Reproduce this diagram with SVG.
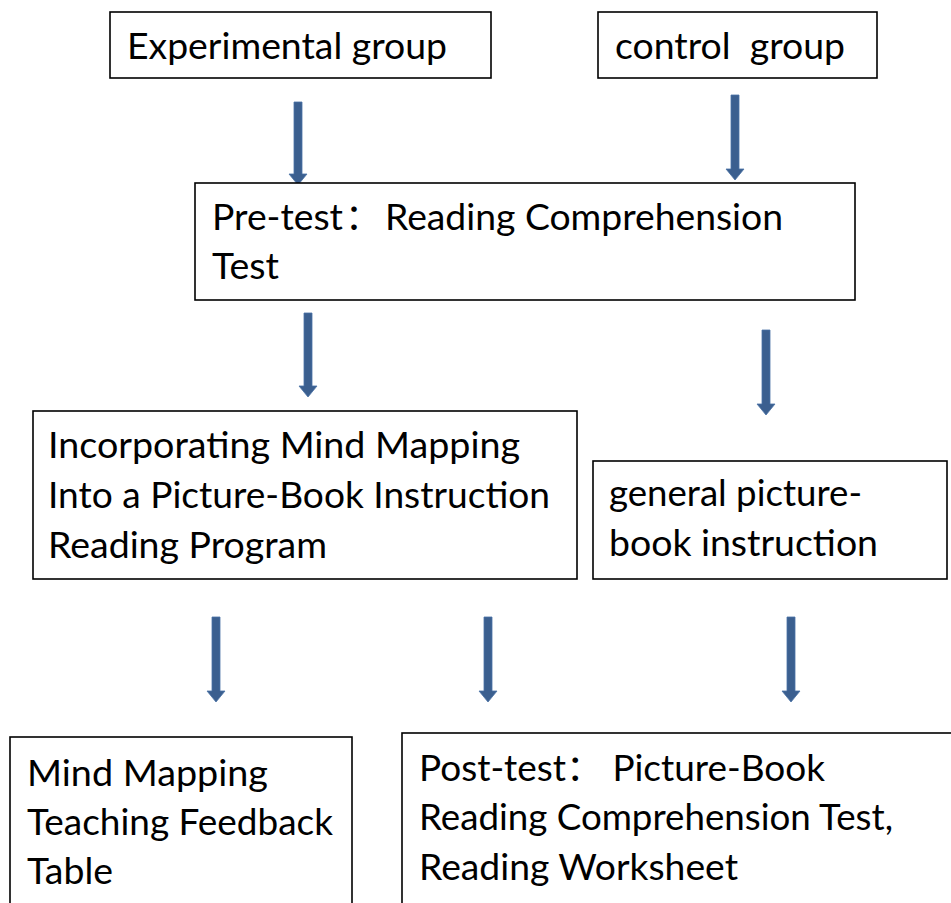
<svg xmlns="http://www.w3.org/2000/svg" width="951" height="903" viewBox="0 0 951 903">
  <style>
    .box { fill: #ffffff; stroke: #000000; stroke-width: 1.6; }
    .lbl { font-family: Lato, "Noto Sans CJK SC", sans-serif; font-size: 36px; fill: #000000; }
    .arrow { fill: #3B5F8F; stroke: #4A72A6; stroke-width: 0.8; }
  </style>
  <rect x="0" y="0" width="951" height="903" fill="#ffffff"/>

  <!-- connectors: block arrows pointing down -->
  <g id="connectors">
    <path class="arrow" d="M294,102 H302 V174 H307 L298,185 L289,174 H294 Z"/>
    <path class="arrow" d="M731,95 H739 V169 H744 L735,180 L726,169 H731 Z"/>
    <path class="arrow" d="M304,313 H312 V386 H317 L308,397 L299,386 H304 Z"/>
    <path class="arrow" d="M762,330 H770 V404 H775 L766,415 L757,404 H762 Z"/>
    <path class="arrow" d="M212,617 H220 V691 H225 L216,702 L207,691 H212 Z"/>
    <path class="arrow" d="M484,617 H492 V691 H497 L488,702 L479,691 H484 Z"/>
    <path class="arrow" d="M787,617 H795 V691 H800 L791,702 L782,691 H787 Z"/>
  </g>

  <g id="experimental">
    <rect class="box" x="110" y="12" width="381" height="66"/>
    <text class="lbl" x="127" y="59" textLength="320" lengthAdjust="spacingAndGlyphs">Experimental group</text>
  </g>

  <g id="control">
    <rect class="box" x="598" y="12" width="279" height="66"/>
    <text class="lbl" x="615" y="59" textLength="230" lengthAdjust="spacingAndGlyphs" xml:space="preserve">control  group</text>
  </g>

  <g id="pretest">
    <rect class="box" x="195" y="183" width="660" height="117"/>
    <text class="lbl" y="230"><tspan x="212" textLength="131" lengthAdjust="spacingAndGlyphs">Pre-test</tspan><tspan x="345">：</tspan><tspan x="385" textLength="398" lengthAdjust="spacingAndGlyphs">Reading Comprehension</tspan></text>
    <text class="lbl" x="212" y="279" textLength="67" lengthAdjust="spacingAndGlyphs">Test</text>
  </g>

  <g id="program">
    <rect class="box" x="33" y="411" width="544" height="168"/>
    <text class="lbl" x="48" y="458" textLength="472" lengthAdjust="spacingAndGlyphs">Incorporating Mind Mapping</text>
    <text class="lbl" x="48" y="508" textLength="502" lengthAdjust="spacingAndGlyphs">Into a Picture-Book Instruction</text>
    <text class="lbl" x="48" y="558" textLength="279" lengthAdjust="spacingAndGlyphs">Reading Program</text>
  </g>

  <g id="general">
    <rect class="box" x="593" y="461" width="354" height="118"/>
    <text class="lbl" x="609" y="506" textLength="253" lengthAdjust="spacingAndGlyphs">general picture-</text>
    <text class="lbl" x="609" y="556" textLength="269" lengthAdjust="spacingAndGlyphs">book instruction</text>
  </g>

  <g id="feedback">
    <rect class="box" x="10" y="737" width="342" height="180"/>
    <text class="lbl" x="27" y="786" textLength="241" lengthAdjust="spacingAndGlyphs">Mind Mapping</text>
    <text class="lbl" x="27" y="835" textLength="306" lengthAdjust="spacingAndGlyphs">Teaching Feedback</text>
    <text class="lbl" x="27" y="884" textLength="86" lengthAdjust="spacingAndGlyphs">Table</text>
  </g>

  <g id="posttest">
    <rect class="box" x="402" y="733" width="560" height="184"/>
    <text class="lbl" x="419" y="781" textLength="406" lengthAdjust="spacingAndGlyphs">Post-test： Picture-Book</text>
    <text class="lbl" x="419" y="830" textLength="474" lengthAdjust="spacingAndGlyphs">Reading Comprehension Test,</text>
    <text class="lbl" x="419" y="880" textLength="319" lengthAdjust="spacingAndGlyphs">Reading Worksheet</text>
  </g>
</svg>
